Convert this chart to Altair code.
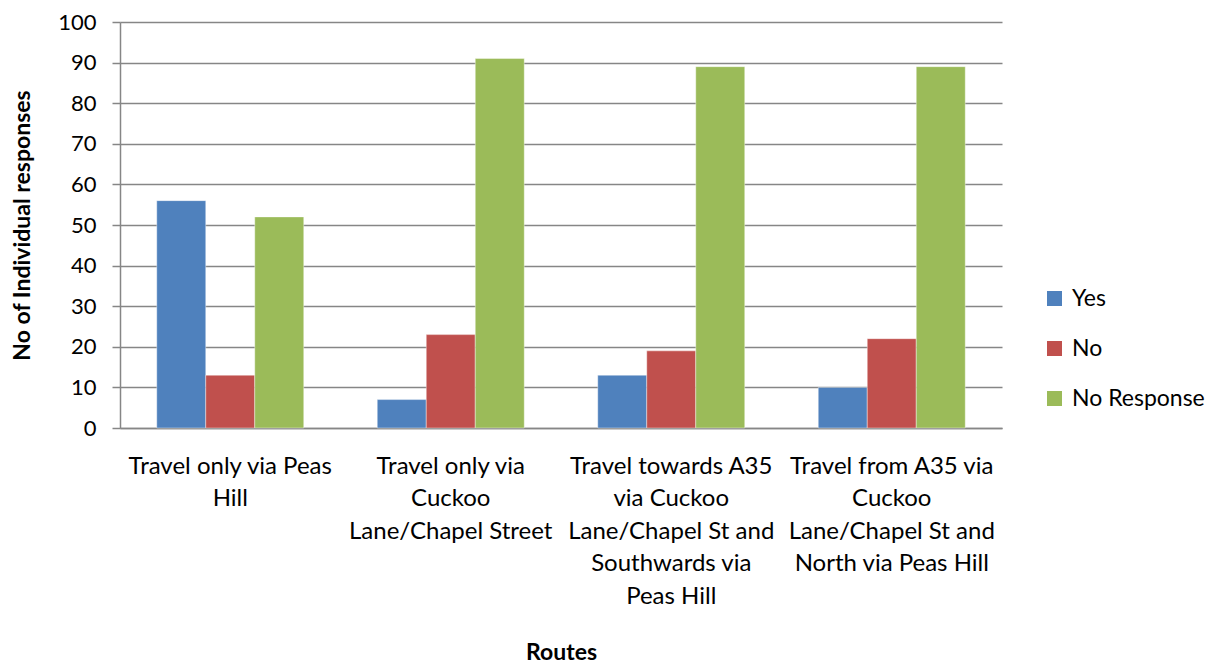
import altair as alt
import pandas as pd

categories = [
    "Travel only via Peas Hill",
    "Travel only via Cuckoo Lane/Chapel Street",
    "Travel towards A35 via Cuckoo Lane/Chapel St and Southwards via Peas Hill",
    "Travel from A35 via Cuckoo Lane/Chapel St and North via Peas Hill",
]
label_lines = [
    ["Travel only via Peas", "Hill"],
    ["Travel only via", "Cuckoo", "Lane/Chapel Street"],
    ["Travel towards A35", "via Cuckoo", "Lane/Chapel St and", "Southwards via", "Peas Hill"],
    ["Travel from A35 via", "Cuckoo", "Lane/Chapel St and", "North via Peas Hill"],
]
series = ["Yes", "No", "No Response"]
yes_vals = [56, 7, 13, 10]
no_vals = [13, 23, 19, 22]
noresp_vals = [52, 91, 89, 89]
colors = ["#4F81BD", "#C0504D", "#9BBB59"]
y_ticks = [0, 10, 20, 30, 40, 50, 60, 70, 80, 90, 100]

rows = []
for s, vals in zip(series, [yes_vals, no_vals, noresp_vals]):
    for c, v in zip(categories, vals):
        rows.append({"Route": c, "Series": s, "Value": v})
df = pd.DataFrame(rows)

# build a label expression that splits each category into lines
expr = "datum.label"
for c, lines in reversed(list(zip(categories, label_lines))):
    arr = "[" + ",".join("'" + l + "'" for l in lines) + "]"
    expr = f"datum.label == '{c}' ? {arr} : ({expr})"

GRAY = "#868686"

chart = alt.Chart(df).mark_bar(stroke="#ffffff", strokeOpacity=0.4, strokeWidth=1).encode(
    x=alt.X(
        "Route:N",
        sort=categories,
        scale=alt.Scale(paddingInner=1 / 3, paddingOuter=1 / 6),
        axis=alt.Axis(
            title="Routes",
            labelExpr=expr,
            labelAngle=0,
            ticks=False,
            grid=False,
            domainColor=GRAY,
            domainWidth=1.5,
            labelFontSize=24,
            labelColor="#000000",
            labelLineHeight=32.5,
            labelPadding=26,
            labelBaseline="top",
            labelLimit=400,
            labelOverlap=False,
            labelBound=False,
            titleFontSize=23,
            titleFontWeight="bold",
            titleColor="#000000",
            titleX=441,
            titleY=231,
            titleAlign="center",
            titleBaseline="alphabetic",
        ),
    ),
    xOffset=alt.XOffset("Series:N", sort=series, scale=alt.Scale(paddingInner=0, paddingOuter=0)),
    y=alt.Y(
        "Value:Q",
        scale=alt.Scale(domain=[0, 100], nice=False),
        axis=alt.Axis(
            values=y_ticks,
            title="No of Individual responses",
            labelFontSize=22,
            labelColor="#000000",
            labelPadding=16,
            tickSize=8,
            tickColor=GRAY,
            tickWidth=1.5,
            domainColor=GRAY,
            domainWidth=1.5,
            gridColor=GRAY,
            gridWidth=1.5,
            titleFontSize=23,
            titleFontWeight="bold",
            titleColor="#000000",
            titleX=-98,
            titleY=203,
            titleAngle=-90,
            titleAlign="center",
            titleBaseline="middle",
        ),
    ),
    color=alt.Color(
        "Series:N",
        sort=series,
        scale=alt.Scale(domain=series, range=colors),
        legend=alt.Legend(
            title=None,
            orient="none",
            legendX=923,
            legendY=265,
            symbolType="square",
            symbolSize=225,
            symbolStrokeWidth=0,
            labelFontSize=23,
            labelColor="#000000",
            labelOffset=6,
            rowPadding=26,
            padding=0,
        ),
    ),
).properties(
    width=882,
    height=406,
    autosize=alt.AutoSizeParams(type="none"),
    padding={"left": 112, "top": 14, "right": 209, "bottom": 236},
).configure(font="Lato").configure_view(stroke=None)

chart.save("out.html", embed_options={"renderer": "svg", "actions": False})
